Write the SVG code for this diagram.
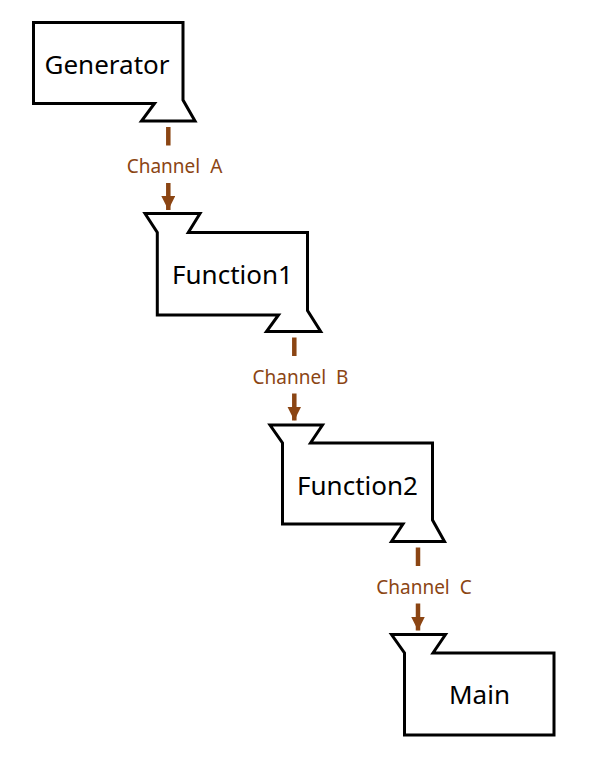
<svg xmlns="http://www.w3.org/2000/svg" width="596" height="767" viewBox="0 0 596 767">
<defs>
<style>
.node{fill:#ffffff;stroke:#000000;stroke-width:3;stroke-linejoin:miter}
.nlabel{font-family:"Noto Sans","Open Sans","DejaVu Sans",sans-serif;font-size:26px;fill:#000000;text-anchor:middle}
.edge{stroke:#8B4513;stroke-width:4.5;fill:none}
.elabel{font-family:"Noto Sans","Open Sans","DejaVu Sans",sans-serif;font-size:19px;fill:#8B4513;text-anchor:middle;word-spacing:5px}
</style>
<marker id="ah" viewBox="0 0 14 14" refX="14" refY="7" markerWidth="14" markerHeight="14" markerUnits="userSpaceOnUse" orient="auto">
<path d="M0,0 L14,7 L0,14 Z" fill="#8B4513"/>
</marker>
</defs>
<rect width="596" height="767" fill="#ffffff"/>
<g id="connectors">
<g id="edge-a">
<line class="edge" x1="168.3" y1="127" x2="168.3" y2="145.5"/>
<line class="edge" x1="168.3" y1="183" x2="168.3" y2="210" marker-end="url(#ah)"/>
<text class="elabel" x="174.5" y="173">Channel A</text>
</g>
<g id="edge-b">
<line class="edge" x1="294.3" y1="337.5" x2="294.3" y2="356"/>
<line class="edge" x1="294.3" y1="393.5" x2="294.3" y2="420.5" marker-end="url(#ah)"/>
<text class="elabel" x="300.5" y="384">Channel B</text>
</g>
<g id="edge-c">
<line class="edge" x1="418" y1="547.5" x2="418" y2="566"/>
<line class="edge" x1="418" y1="603.5" x2="418" y2="630.5" marker-end="url(#ah)"/>
<text class="elabel" x="424" y="594">Channel C</text>
</g>
</g>
<g id="generator">
<path class="node" d="M33.5,22.5 H183 V100 L195,121 H141.5 L154.5,103.5 H33.5 Z"/>
<text class="nlabel" x="107" y="74">Generator</text>
</g>
<g id="function1">
<path class="node" d="M145,213.5 H200 L188.3,232.5 H307.5 V310.5 L320.7,331.5 H266.5 L278.5,315 H157.3 V232.5 Z"/>
<text class="nlabel" x="232.5" y="284">Function1</text>
</g>
<g id="function2">
<path class="node" d="M270,425 H322.5 L310.5,443 H432.5 V520 L444.5,541.5 H391.5 L403,524 H282.5 V443 Z"/>
<text class="nlabel" x="357.5" y="494.5">Function2</text>
</g>
<g id="main">
<path class="node" d="M391.5,634.5 H445.5 L433,653 H554 V735 H404.5 V653 Z"/>
<text class="nlabel" x="479.5" y="704">Main</text>
</g>
</svg>
